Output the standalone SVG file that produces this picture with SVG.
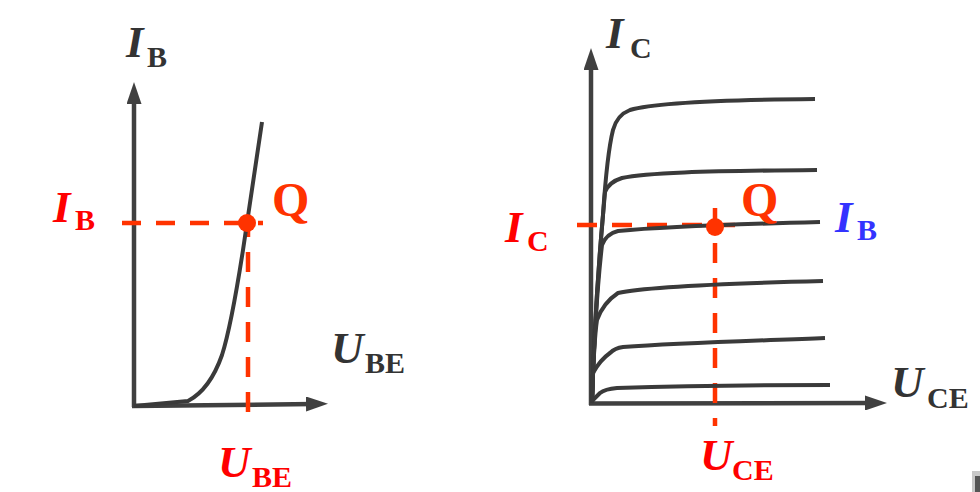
<svg xmlns="http://www.w3.org/2000/svg" width="980" height="492" viewBox="0 0 980 492">
  <defs>
    <marker id="arr" markerUnits="userSpaceOnUse" markerWidth="22" markerHeight="15" viewBox="0 0 22 15" refX="8" refY="7.5" orient="auto">
      <path d="M0,0 L22,7.5 L0,15 z" fill="#404040"/>
    </marker>
    <style>
      .axis { stroke: #404040; stroke-width: 4.5; fill: none; marker-end: url(#arr); }
      .curve { stroke: #3a3a3a; stroke-width: 4; fill: none; stroke-linejoin: round; }
      .dash { stroke: #ff3300; stroke-width: 4.5; fill: none; stroke-dasharray: 20 15; }
      .dot { fill: #ff3300; }
      .lbl { font-family: "Liberation Serif", "Times New Roman", serif; font-weight: bold; }
      .main { font-style: italic; font-size: 45px; }
      .sub { font-style: normal; font-size: 30px; }
      .q { font-size: 48px; fill: #ff3300; }
      .blk { fill: #333333; }
      .red { fill: #ff0000; }
      .blue { fill: #3333ff; }
    </style>
  </defs>
  <rect width="980" height="492" fill="#ffffff"/>

  <g id="connectors">
    <!-- left plot axes -->
    <line class="axis" x1="134" y1="407" x2="134" y2="96"/>
    <line class="axis" x1="132" y1="406" x2="314" y2="404"/>
    <!-- right plot axes -->
    <line class="axis" x1="591" y1="405" x2="591" y2="62"/>
    <line class="axis" x1="589" y1="403.5" x2="873" y2="403"/>
    <!-- dashed guides -->
    <path class="dash" d="M122,223 H263" style="stroke-dasharray:19 15"/>
    <path class="dash" d="M248,412 V223"/>
    <path class="dash" d="M577,225 H735"/>
    <path class="dash" d="M715,208 V426"/>
  </g>

  <g id="input-curve">
    <path class="curve" d="M134,406 L188,401 C205,392 215,375 222,355 C230,330 236,295 243,250 L262,122"/>
  </g>

  <g id="output-curves">
    <path class="curve" d="M592,403 C594,330 599,260 603,215 C605,185 608,150 613,130 Q617,115 630,110 C650,104 700,100 815,99"/>
    <path class="curve" d="M592,403 C594,330 599,260 603,215 L605,192 Q609,182 622,178 C645,173 700,171 817,170"/>
    <path class="curve" d="M592,403 C594,340 598,280 602,245 Q606,234 618,231 C660,227 740,224 820,222"/>
    <path class="curve" d="M592,403 C593,370 594,340 597,320 Q603,303 618,293 C640,288 700,284 823,281"/>
    <path class="curve" d="M592,403 L593,373 Q600,360 610,353 Q615,348 623,347 C680,343 750,341 825,338"/>
    <path class="curve" d="M591,402 Q595,398 600,393 Q605,389 617,388 C680,386 760,385 830,385"/>
  </g>

  <g id="q-left">
    <circle class="dot" cx="247" cy="223" r="9"/>
    <text class="lbl q" x="272" y="216">Q</text>
  </g>
  <g id="q-right">
    <circle class="dot" cx="715" cy="227" r="9"/>
    <text class="lbl q" x="741" y="216">Q</text>
  </g>

  <g id="label-ib-axis">
    <text class="lbl blk"><tspan class="main" x="126" y="57">I</tspan><tspan class="sub" x="147" y="67">B</tspan></text>
  </g>
  <g id="label-ib-q">
    <text class="lbl red"><tspan class="main" x="53" y="222">I</tspan><tspan class="sub" x="75" y="230">B</tspan></text>
  </g>
  <g id="label-ube-axis">
    <text class="lbl blk"><tspan class="main" x="331" y="363">U</tspan><tspan class="sub" x="365" y="373">BE</tspan></text>
  </g>
  <g id="label-ube-q">
    <text class="lbl red"><tspan class="main" x="218" y="477">U</tspan><tspan class="sub" x="252" y="487">BE</tspan></text>
  </g>

  <g id="label-ic-axis">
    <text class="lbl blk"><tspan class="main" x="606" y="48">I</tspan><tspan class="sub" x="630" y="58">C</tspan></text>
  </g>
  <g id="label-ic-q">
    <text class="lbl red"><tspan class="main" x="505" y="242">I</tspan><tspan class="sub" x="527" y="251">C</tspan></text>
  </g>
  <g id="label-ib-curve">
    <text class="lbl blue"><tspan class="main" x="835" y="232">I</tspan><tspan class="sub" x="857" y="240">B</tspan></text>
  </g>
  <g id="label-uce-axis">
    <text class="lbl blk"><tspan class="main" x="891" y="397">U</tspan><tspan class="sub" x="927" y="408">CE</tspan></text>
  </g>
  <g id="label-uce-q">
    <text class="lbl red"><tspan class="main" x="700" y="470">U</tspan><tspan class="sub" x="732" y="480">CE</tspan></text>
  </g>

  <g id="corner-mark">
    <rect x="972" y="471" width="8" height="21" fill="#c8c8c8"/>
    <rect x="975" y="476" width="5" height="16" fill="#555555"/>
  </g>
</svg>
